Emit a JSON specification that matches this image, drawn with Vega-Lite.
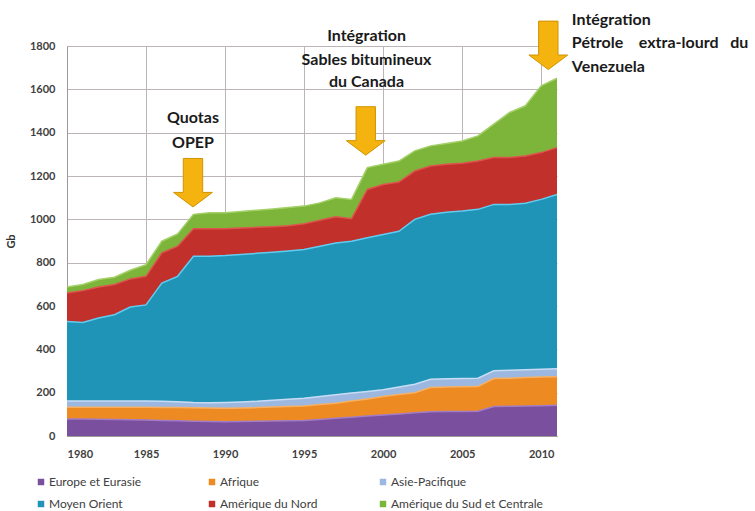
{
  "$schema": "https://vega.github.io/schema/vega-lite/v6.json",
  "width": 490,
  "height": 390,
  "autosize": {"type": "none"},
  "padding": {"left": 67, "top": 46, "right": 198, "bottom": 75},
  "background": "white",
  "config": {
    "font": "Lato",
    "view": {"stroke": null},
    "axis": {
      "labelFont": "Lato",
      "labelFontWeight": "bold",
      "labelFontSize": 11,
      "labelColor": "#404040",
      "gridColor": "#bdb5b5",
      "gridWidth": 1,
      "domainColor": "#9a9a9a",
      "ticks": false
    },
    "legend": {
      "labelFont": "Lato",
      "labelFontSize": 12,
      "labelColor": "#404040"
    }
  },
  "datasets": {
    "reserves": [
      {"annee": 1980, "Europe et Eurasie": 79, "Afrique": 54, "Asie-Pacifique": 29, "Moyen Orient": 367, "Amérique du Nord": 131, "Amérique du Sud et Centrale": 28},
      {"annee": 1981, "Europe et Eurasie": 78, "Afrique": 55, "Asie-Pacifique": 29, "Moyen Orient": 362, "Amérique du Nord": 147, "Amérique du Sud et Centrale": 28},
      {"annee": 1982, "Europe et Eurasie": 77, "Afrique": 56, "Asie-Pacifique": 29, "Moyen Orient": 383, "Amérique du Nord": 143, "Amérique du Sud et Centrale": 34},
      {"annee": 1983, "Europe et Eurasie": 76, "Afrique": 57, "Asie-Pacifique": 29, "Moyen Orient": 398, "Amérique du Nord": 139, "Amérique du Sud et Centrale": 34},
      {"annee": 1984, "Europe et Eurasie": 75, "Afrique": 58, "Asie-Pacifique": 29, "Moyen Orient": 433, "Amérique du Nord": 130, "Amérique du Sud et Centrale": 40},
      {"annee": 1985, "Europe et Eurasie": 74, "Afrique": 59, "Asie-Pacifique": 29, "Moyen Orient": 443, "Amérique du Nord": 132, "Amérique du Sud et Centrale": 54},
      {"annee": 1986, "Europe et Eurasie": 72, "Afrique": 60, "Asie-Pacifique": 28, "Moyen Orient": 546, "Amérique du Nord": 139, "Amérique du Sud et Centrale": 54},
      {"annee": 1987, "Europe et Eurasie": 70, "Afrique": 61, "Asie-Pacifique": 27, "Moyen Orient": 579, "Amérique du Nord": 139, "Amérique du Sud et Centrale": 57},
      {"annee": 1988, "Europe et Eurasie": 68, "Afrique": 62, "Asie-Pacifique": 25, "Moyen Orient": 675, "Amérique du Nord": 126, "Amérique du Sud et Centrale": 67},
      {"annee": 1989, "Europe et Eurasie": 67, "Afrique": 62, "Asie-Pacifique": 25, "Moyen Orient": 676, "Amérique du Nord": 126, "Amérique du Sud et Centrale": 74},
      {"annee": 1990, "Europe et Eurasie": 66, "Afrique": 62, "Asie-Pacifique": 27, "Moyen Orient": 678, "Amérique du Nord": 123, "Amérique du Sud et Centrale": 74},
      {"annee": 1991, "Europe et Eurasie": 67, "Afrique": 62, "Asie-Pacifique": 28, "Moyen Orient": 681, "Amérique du Nord": 122, "Amérique du Sud et Centrale": 76},
      {"annee": 1992, "Europe et Eurasie": 68, "Afrique": 63, "Asie-Pacifique": 29, "Moyen Orient": 683, "Amérique du Nord": 120, "Amérique du Sud et Centrale": 79},
      {"annee": 1993, "Europe et Eurasie": 69, "Afrique": 65, "Asie-Pacifique": 31, "Moyen Orient": 683, "Amérique du Nord": 118, "Amérique du Sud et Centrale": 82},
      {"annee": 1994, "Europe et Eurasie": 70, "Afrique": 66, "Asie-Pacifique": 34, "Moyen Orient": 684, "Amérique du Nord": 116, "Amérique du Sud et Centrale": 85},
      {"annee": 1995, "Europe et Eurasie": 71, "Afrique": 68, "Asie-Pacifique": 35, "Moyen Orient": 687, "Amérique du Nord": 119, "Amérique du Sud et Centrale": 81},
      {"annee": 1996, "Europe et Eurasie": 76, "Afrique": 69, "Asie-Pacifique": 37, "Moyen Orient": 694, "Amérique du Nord": 120, "Amérique du Sud et Centrale": 80},
      {"annee": 1997, "Europe et Eurasie": 82, "Afrique": 69, "Asie-Pacifique": 39, "Moyen Orient": 701, "Amérique du Nord": 121, "Amérique du Sud et Centrale": 88},
      {"annee": 1998, "Europe et Eurasie": 87, "Afrique": 74, "Asie-Pacifique": 37, "Moyen Orient": 701, "Amérique du Nord": 104, "Amérique du Sud et Centrale": 89},
      {"annee": 1999, "Europe et Eurasie": 92, "Afrique": 79, "Asie-Pacifique": 34, "Moyen Orient": 710, "Amérique du Nord": 223, "Amérique du Sud et Centrale": 101},
      {"annee": 2000, "Europe et Eurasie": 97, "Afrique": 85, "Asie-Pacifique": 31, "Moyen Orient": 717, "Amérique du Nord": 231, "Amérique du Sud et Centrale": 93},
      {"annee": 2001, "Europe et Eurasie": 102, "Afrique": 89, "Asie-Pacifique": 35, "Moyen Orient": 719, "Amérique du Nord": 227, "Amérique du Sud et Centrale": 97},
      {"annee": 2002, "Europe et Eurasie": 107, "Afrique": 93, "Asie-Pacifique": 39, "Moyen Orient": 761, "Amérique du Nord": 223, "Amérique du Sud et Centrale": 93},
      {"annee": 2003, "Europe et Eurasie": 112, "Afrique": 112, "Asie-Pacifique": 38, "Moyen Orient": 761, "Amérique du Nord": 223, "Amérique du Sud et Centrale": 93},
      {"annee": 2004, "Europe et Eurasie": 113, "Afrique": 113, "Asie-Pacifique": 38, "Moyen Orient": 769, "Amérique du Nord": 221, "Amérique du Sud et Centrale": 96},
      {"annee": 2005, "Europe et Eurasie": 113, "Afrique": 114, "Asie-Pacifique": 38, "Moyen Orient": 773, "Amérique du Nord": 221, "Amérique du Sud et Centrale": 103},
      {"annee": 2006, "Europe et Eurasie": 114, "Afrique": 114, "Asie-Pacifique": 39, "Moyen Orient": 779, "Amérique du Nord": 223, "Amérique du Sud et Centrale": 116},
      {"annee": 2007, "Europe et Eurasie": 136, "Afrique": 129, "Asie-Pacifique": 36, "Moyen Orient": 768, "Amérique du Nord": 216, "Amérique du Sud et Centrale": 154},
      {"annee": 2008, "Europe et Eurasie": 137, "Afrique": 130, "Asie-Pacifique": 36, "Moyen Orient": 766, "Amérique du Nord": 216, "Amérique du Sud et Centrale": 208},
      {"annee": 2009, "Europe et Eurasie": 139, "Afrique": 131, "Asie-Pacifique": 36, "Moyen Orient": 768, "Amérique du Nord": 218, "Amérique du Sud et Centrale": 232},
      {"annee": 2010, "Europe et Eurasie": 140, "Afrique": 132, "Asie-Pacifique": 36, "Moyen Orient": 784, "Amérique du Nord": 216, "Amérique du Sud et Centrale": 308},
      {"annee": 2011, "Europe et Eurasie": 142, "Afrique": 132, "Asie-Pacifique": 36, "Moyen Orient": 805, "Amérique du Nord": 216, "Amérique du Sud et Centrale": 320}
    ],
    "rangs": [
      {"region": "Europe et Eurasie", "rang": 1},
      {"region": "Afrique", "rang": 2},
      {"region": "Asie-Pacifique", "rang": 3},
      {"region": "Moyen Orient", "rang": 4},
      {"region": "Amérique du Nord", "rang": 5},
      {"region": "Amérique du Sud et Centrale", "rang": 6}
    ]
  },
  "layer": [
    {
      "data": {"name": "reserves"},
      "transform": [
        {"fold": ["Europe et Eurasie", "Afrique", "Asie-Pacifique", "Moyen Orient", "Amérique du Nord", "Amérique du Sud et Centrale"], "as": ["region", "reserves"]},
        {"lookup": "region", "from": {"data": {"name": "rangs"}, "key": "region", "fields": ["rang"]}}
      ],
      "mark": {"type": "area", "opacity": 1},
      "encoding": {
        "x": {
          "field": "annee", "type": "quantitative",
          "scale": {"domain": [1980, 2011], "nice": false, "zero": false},
          "axis": {"values": [1980, 1985, 1990, 1995, 2000, 2005, 2010], "format": "d", "title": null, "labelPadding": 12, "grid": true}
        },
        "y": {
          "field": "reserves", "type": "quantitative", "stack": "zero",
          "scale": {"domain": [0, 1800], "nice": false},
          "axis": {"values": [0, 200, 400, 600, 800, 1000, 1200, 1400, 1600, 1800], "format": "d", "title": "Gb", "titleFontSize": 11, "titleFontWeight": "bold", "titleColor": "#333333", "titlePadding": 13, "labelPadding": 12, "grid": true}
        },
        "order": {"field": "rang", "type": "quantitative", "sort": "ascending"},
        "color": {
          "field": "region", "type": "nominal",
          "scale": {
            "domain": ["Europe et Eurasie", "Afrique", "Asie-Pacifique", "Moyen Orient", "Amérique du Nord", "Amérique du Sud et Centrale"],
            "range": ["#7a4f9e", "#ee8a22", "#9db8e0", "#1f94b6", "#c2302b", "#7db43a"]
          },
          "legend": {
            "title": null, "orient": "none", "legendX": -32, "legendY": 430, "direction": "horizontal",
            "columns": 3, "gridAlign": "all", "columnPadding": 5, "rowPadding": 10,
            "symbolType": "square", "symbolSize": 42, "symbolStrokeWidth": 0, "labelOffset": 2
          }
        }
      }
    },
    {
      "data": {"name": "reserves"},
      "transform": [
        {"fold": ["Europe et Eurasie", "Afrique", "Asie-Pacifique", "Moyen Orient", "Amérique du Nord", "Amérique du Sud et Centrale"], "as": ["region", "reserves"]},
        {"lookup": "region", "from": {"data": {"name": "rangs"}, "key": "region", "fields": ["rang"]}}
      ],
      "mark": {"type": "line", "strokeWidth": 1.5},
      "encoding": {
        "x": {"field": "annee", "type": "quantitative"},
        "y": {"field": "reserves", "type": "quantitative", "stack": "zero"},
        "order": {"field": "rang", "type": "quantitative", "sort": "ascending"},
        "stroke": {
          "field": "region", "type": "nominal", "legend": null,
          "scale": {
            "domain": ["Europe et Eurasie", "Afrique", "Asie-Pacifique", "Moyen Orient", "Amérique du Nord", "Amérique du Sud et Centrale"],
            "range": ["#a27cc6", "#f8b060", "#c8dcf5", "#5fcdf2", "#dc544e", "#a3d168"]
          }
        }
      }
    },
    {
      "data": {"values": [
        {"annee": 1987.97, "v": 1169},
        {"annee": 1998.9, "v": 1408},
        {"annee": 2010.45, "v": 1803}
      ]},
      "mark": {"type": "point", "filled": true, "shape": "M -0.4 -1 L 0.4 -1 L 0.4 0.4 L 0.8 0.4 L 0 1 L -0.8 0.4 L -0.4 0.4 Z", "size": 2350, "fill": "#f5b30f", "stroke": "#cf9400", "strokeWidth": 1, "opacity": 1},
      "encoding": {
        "x": {"field": "annee", "type": "quantitative"},
        "y": {"field": "v", "type": "quantitative"}
      }
    },
    {
      "data": {"values": [
        {"annee": 1987.97, "v": 1467, "texte": "Quotas"},
        {"annee": 1987.97, "v": 1354, "texte": "OPEP"},
        {"annee": 1998.95, "v": 1848, "texte": "Intégration"},
        {"annee": 1998.95, "v": 1735, "texte": "Sables bitumineux"},
        {"annee": 1998.95, "v": 1632, "texte": "du Canada"}
      ]},
      "mark": {"type": "text", "align": "center", "baseline": "middle", "font": "Lato", "fontWeight": "bold", "fontSize": 16, "color": "#1a1a1a"},
      "encoding": {
        "x": {"field": "annee", "type": "quantitative"},
        "y": {"field": "v", "type": "quantitative"},
        "text": {"field": "texte"}
      }
    },
    {
      "data": {"values": [
        {"annee": 2011.94, "v": 1922, "texte": "Intégration"},
        {"annee": 2011.94, "v": 1813, "texte": "Pétrole\u00a0\u00a0\u00a0\u00a0extra-lourd\u00a0\u00a0\u00a0du"},
        {"annee": 2011.94, "v": 1704, "texte": "Venezuela"}
      ]},
      "mark": {"type": "text", "align": "left", "baseline": "middle", "font": "Lato", "fontWeight": "bold", "fontSize": 16, "color": "#1a1a1a"},
      "encoding": {
        "x": {"field": "annee", "type": "quantitative"},
        "y": {"field": "v", "type": "quantitative"},
        "text": {"field": "texte"}
      }
    }
  ]
}
